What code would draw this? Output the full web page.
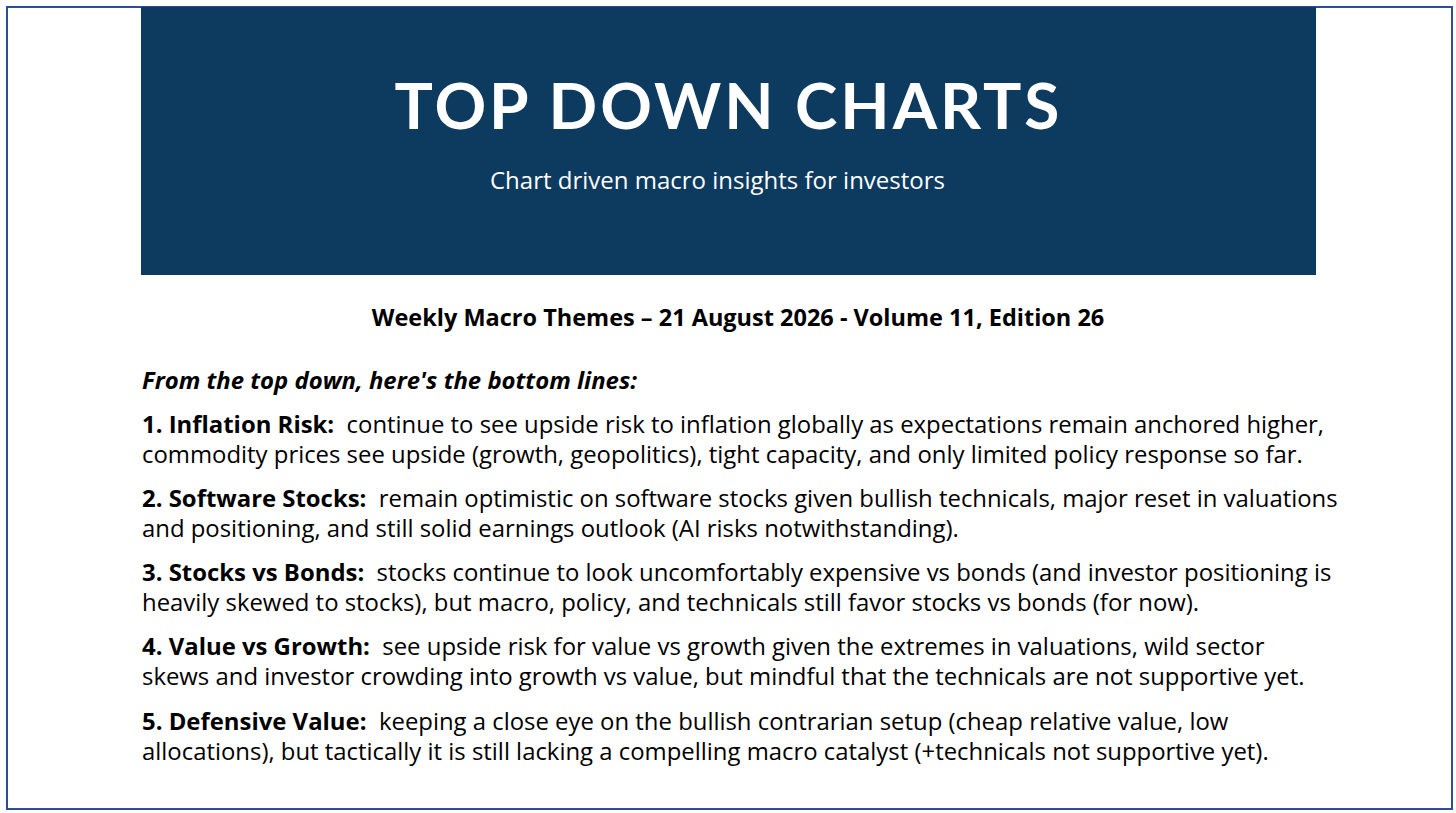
<!DOCTYPE html>
<html>
<head>
  <meta charset="utf-8">
  <title>Weekly Macro Themes</title>
  <script src="https://cdn.jsdelivr.net/npm/chart.js"></script>
  <style>
    html, body {
      margin: 0;
      padding: 0;
      background: #fff;
    }
    body {
      width: 1456px;
      height: 813px;
      position: relative;
      overflow: hidden;
      font-family: "Open Sans", "Noto Sans", sans-serif;
      color: #000;
    }
    .frame {
      position: absolute;
      left: 6px;
      top: 6px;
      width: 1443px;
      height: 800px;
      border: 2px solid #2c4d9b;
    }
    .banner {
      position: absolute;
      left: 141px;
      top: 7px;
      width: 1175px;
      height: 268px;
      background: #0d3a5f;
      color: #fff;
      text-align: center;
    }
    .banner h1 {
      margin: 0;
      position: absolute;
      left: 0;
      right: 0;
      top: 60px;
      font-family: Lato, sans-serif;
      font-size: 64px;
      font-weight: 700;
      letter-spacing: 3px;
      line-height: 76px;
    }
    .banner .sub {
      position: absolute;
      left: 0;
      right: 22px;
      top: 158px;
      font-size: 24px;
      line-height: 30px;
    }
    .edition {
      position: absolute;
      left: 0;
      width: 1476px;
      top: 302px;
      text-align: center;
      font-size: 23.5px;
      font-weight: 700;
      line-height: 30px;
    }
    .themes {
      position: absolute;
      left: 142px;
      top: 365px;
      font-size: 23.9px;
      line-height: 30px;
    }
    .themes .lead {
      font-weight: 700;
      font-style: italic;
      margin-bottom: 14px;
    }
    .themes .item {
      margin-bottom: 14px;
    }
    .themes .item:nth-child(5) {
      margin-bottom: 15px;
    }
    .themes .line {
      white-space: nowrap;
    }
  </style>
</head>
<body>
  <div class="frame"></div>
  <div class="banner">
    <h1 id="title"></h1>
    <div class="sub" id="subtitle"></div>
  </div>
  <div class="edition" id="edition"></div>
  <div class="themes" id="themes"></div>

  <script>
    // slide texts
    const title = 'TOP DOWN CHARTS';
    const subtitle = 'Chart driven macro insights for investors';
    const edition = 'Weekly Macro Themes \u2013 21 August 2026 - Volume 11, Edition 26';
    const lead = "From the top down, here's the bottom lines:";

    const themeNames = [
      '1. Inflation Risk:',
      '2. Software Stocks:',
      '3. Stocks vs Bonds:',
      '4. Value vs Growth:',
      '5. Defensive Value:'
    ];
    // first and second line of each theme, as wrapped in the picture
    const themeFirstLines = [
      'continue to see upside risk to inflation globally as expectations remain anchored higher,',
      'remain optimistic on software stocks given bullish technicals, major reset in valuations',
      'stocks continue to look uncomfortably expensive vs bonds (and investor positioning is',
      'see upside risk for value vs growth given the extremes in valuations, wild sector',
      'keeping a close eye on the bullish contrarian setup (cheap relative value, low'
    ];
    const themeSecondLines = [
      'commodity prices see upside (growth, geopolitics), tight capacity, and only limited policy response so far.',
      'and positioning, and still solid earnings outlook (AI risks notwithstanding).',
      'heavily skewed to stocks), but macro, policy, and technicals still favor stocks vs bonds (for now).',
      'skews and investor crowding into growth vs value, but mindful that the technicals are not supportive yet.',
      'allocations), but tactically it is still lacking a compelling macro catalyst (+technicals not supportive yet).'
    ];

    document.getElementById('title').textContent = title;
    document.getElementById('subtitle').textContent = subtitle;
    document.getElementById('edition').textContent = edition;

    const box = document.getElementById('themes');
    const leadEl = document.createElement('div');
    leadEl.className = 'lead';
    leadEl.textContent = lead;
    box.appendChild(leadEl);

    themeNames.forEach((name, i) => {
      const item = document.createElement('div');
      item.className = 'item';
      const l1 = document.createElement('div');
      l1.className = 'line';
      const b = document.createElement('b');
      b.textContent = name;
      l1.appendChild(b);
      l1.appendChild(document.createTextNode('\u00a0 ' + themeFirstLines[i]));
      const l2 = document.createElement('div');
      l2.className = 'line';
      l2.textContent = themeSecondLines[i];
      item.appendChild(l1);
      item.appendChild(l2);
      box.appendChild(item);
    });
  </script>
</body>
</html>
